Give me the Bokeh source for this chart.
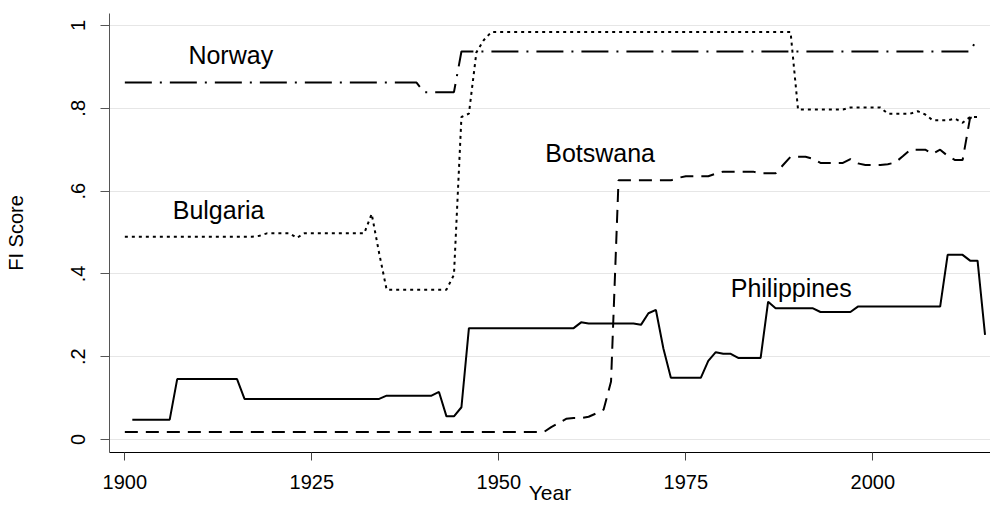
from bokeh.plotting import figure
from bokeh.models import Label, FixedTicker, Range1d
from bokeh.embed import file_html
from bokeh.resources import INLINE

# ---------------- data (change points of each yearly series) ----------------
norway_years = [1900, 1939, 1940, 1944, 1945, 2013, 2014]
norway_vals = [0.862, 0.862, 0.839, 0.839, 0.937, 0.937, 0.970]

bulgaria_years = [1900, 1917, 1918, 1919, 1922, 1923, 1924, 1932, 1933, 1934,
                  1935, 1943, 1944, 1945, 1946, 1947, 1948, 1949, 1989, 1990,
                  1996, 1997, 2001, 2002, 2005, 2006, 2007, 2008, 2010, 2011,
                  2012, 2013, 2014]
bulgaria_vals = [0.490, 0.490, 0.492, 0.498, 0.498, 0.487, 0.498, 0.498, 0.545, 0.450,
                 0.362, 0.362, 0.398, 0.779, 0.787, 0.935, 0.965, 0.984, 0.984, 0.797,
                 0.797, 0.802, 0.802, 0.787, 0.787, 0.793, 0.785, 0.771, 0.771, 0.775,
                 0.765, 0.779, 0.779]

botswana_years = [1900, 1956, 1957, 1958, 1959, 1960, 1961, 1962, 1963, 1964,
                  1965, 1966, 1973, 1974, 1975, 1978, 1979, 1980, 1984, 1985,
                  1987, 1988, 1989, 1991, 1992, 1993, 1996, 1997, 1998, 1999,
                  2001, 2002, 2003, 2004, 2005, 2007, 2008, 2009, 2010, 2011,
                  2012, 2013, 2014]
botswana_vals = [0.018, 0.018, 0.030, 0.040, 0.050, 0.052, 0.052, 0.055, 0.063, 0.072,
                 0.140, 0.626, 0.626, 0.632, 0.636, 0.636, 0.642, 0.647, 0.647, 0.643,
                 0.643, 0.663, 0.683, 0.683, 0.678, 0.668, 0.668, 0.677, 0.667, 0.663,
                 0.663, 0.665, 0.669, 0.684, 0.700, 0.700, 0.690, 0.700, 0.685, 0.675,
                 0.675, 0.777, 0.777]

philippines_years = [1901, 1906, 1907, 1915, 1916, 1934, 1935, 1941, 1942, 1943,
                     1944, 1945, 1946, 1960, 1961, 1962, 1968, 1969, 1970, 1971,
                     1972, 1973, 1977, 1978, 1979, 1980, 1981, 1982, 1985, 1986,
                     1987, 1992, 1993, 1997, 1998, 2009, 2010, 2012, 2013, 2014,
                     2015]
philippines_vals = [0.048, 0.048, 0.146, 0.146, 0.098, 0.098, 0.106, 0.106, 0.115, 0.056,
                    0.056, 0.078, 0.269, 0.269, 0.283, 0.280, 0.280, 0.277, 0.305, 0.313,
                    0.220, 0.149, 0.149, 0.190, 0.211, 0.207, 0.207, 0.197, 0.197, 0.333,
                    0.317, 0.317, 0.308, 0.308, 0.321, 0.321, 0.446, 0.446, 0.432, 0.432,
                    0.253]

x_ticks = [1900, 1925, 1950, 1975, 2000]
y_ticks = [0, 0.2, 0.4, 0.6, 0.8, 1]
y_tick_labels = ["0", ".2", ".4", ".6", ".8", "1"]
country_names = ["Norway", "Bulgaria", "Botswana", "Philippines"]
x_title = "Year"
y_title = "FI Score"

FONT = "Liberation Sans"

p = figure(width=990, height=506, output_backend="svg", toolbar_location=None,
           title=None,
           x_range=Range1d(1897.95, 2015.73), y_range=Range1d(-0.0313, 1.0289),
           min_border_left=109, min_border_right=0, min_border_top=13,
           min_border_bottom=53, margin=(0, 0, 0, 0))
p.outline_line_color = None
p.background_fill_color = "white"
p.border_fill_color = "white"

# grid
p.xgrid.visible = False
p.ygrid.ticker = FixedTicker(ticks=y_ticks)
p.ygrid.grid_line_color = "#e6e6e6"
p.ygrid.grid_line_width = 1

# x axis
xa = p.xaxis[0]
xa.ticker = FixedTicker(ticks=x_ticks)
xa.axis_label = x_title
xa.axis_line_color = "black"
xa.axis_line_width = 1
xa.major_tick_line_color = "#444444"
xa.major_tick_out = 8
xa.major_tick_in = 0
xa.minor_tick_line_color = None
xa.major_label_text_font = FONT
xa.major_label_text_font_size = "20px"
xa.major_label_text_color = "black"
xa.major_label_standoff = 14
xa.axis_label_text_font = FONT
xa.axis_label_text_font_size = "21px"
xa.axis_label_text_font_style = "normal"
xa.axis_label_text_color = "black"
xa.axis_label_standoff = -11

# y axis
ya = p.yaxis[0]
ya.ticker = FixedTicker(ticks=y_ticks)
ya.major_label_overrides = {t: s for t, s in zip(y_ticks, y_tick_labels)}
ya.major_label_orientation = "vertical"
ya.axis_label = y_title
ya.axis_line_color = "#555555"
ya.axis_line_width = 1
ya.major_tick_line_color = "#555555"
ya.major_tick_out = 9
ya.major_tick_in = 0
ya.minor_tick_line_color = None
ya.major_label_text_font = FONT
ya.major_label_text_font_size = "20px"
ya.major_label_text_color = "black"
ya.major_label_standoff = 15
ya.axis_label_text_font = FONT
ya.axis_label_text_font_size = "20px"
ya.axis_label_text_font_style = "normal"
ya.axis_label_text_color = "black"
ya.axis_label_standoff = 42

# series
p.line(philippines_years, philippines_vals, line_color="black", line_width=2)
p.line(botswana_years, botswana_vals, line_color="black", line_width=2,
       line_dash="13 8")
p.line(bulgaria_years, bulgaria_vals, line_color="black", line_width=2,
       line_dash="3 4")
p.line(norway_years, norway_vals, line_color="black", line_width=2,
       line_dash="27 8 2 8")

# country labels
label_pos = [(1908.5, 0.928), (1906.4, 0.554), (1956.2, 0.692), (1981.0, 0.366)]
for name, (lx, ly) in zip(country_names, label_pos):
    p.add_layout(Label(x=lx, y=ly, text=name, text_font=FONT,
                       text_font_size="25px", text_color="black",
                       text_align="left", text_baseline="middle"))

open("out.html", "w").write(file_html(p, INLINE))
